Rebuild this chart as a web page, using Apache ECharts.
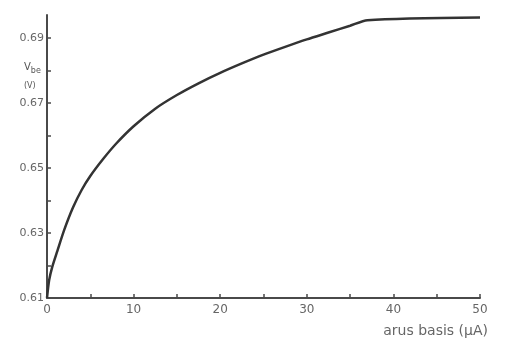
<!DOCTYPE html>
<html>
<head>
<meta charset="utf-8">
<script src="https://cdn.jsdelivr.net/npm/echarts@6/dist/echarts.min.js"></script>
<style>
  html, body { margin: 0; padding: 0; background: #fff; }
  #chart { width: 521px; height: 345px; }
</style>
</head>
<body>
<div id="chart"></div>
<script>
// Base current (µA) and base-emitter voltage (V)
const baseCurrent = [0, 0.25, 0.6, 1.2, 2, 3, 4, 5, 6.5, 8, 10, 12.5, 15, 17.5, 20, 22.5, 25, 27.5, 30, 32.5, 35, 37, 50];
const vbe = [0.610, 0.6155, 0.6195, 0.6245, 0.631, 0.6378, 0.6432, 0.6475, 0.6528, 0.6575, 0.6628, 0.6682, 0.6724, 0.676, 0.6792, 0.6821, 0.6848, 0.6872, 0.6895, 0.6916, 0.6937, 0.6954, 0.6962];
const yTickLabels = ['0.61', '0.63', '0.65', '0.67', '0.69'];
const xTickLabels = ['0', '10', '20', '30', '40', '50'];
const xAxisTitle = 'arus basis (µA)';

const points = baseCurrent.map((x, i) => [x, vbe[i]]);
const font = 'DejaVu Sans';
const axisColor = '#4a4a4a';

const chart = echarts.init(document.getElementById('chart'), null, { renderer: 'canvas' });
chart.setOption({
  animation: false,
  backgroundColor: '#fff',
  grid: { left: 47, right: 41, top: 15, bottom: 47 },
  xAxis: {
    type: 'value',
    min: 0, max: 50, interval: 5,
    axisLine: { onZero: false, lineStyle: { color: axisColor, width: 2 } },
    axisTick: { inside: true, length: 4, lineStyle: { color: axisColor, width: 1.5 } },
    splitLine: { show: false },
    axisLabel: {
      color: '#666', fontFamily: font, fontSize: 12, margin: 6,
      formatter: v => {
        const s = String(Math.round(v));
        return xTickLabels.includes(s) ? s : '';
      }
    },
    name: xAxisTitle,
    nameLocation: 'end',
    nameGap: 0,
    nameTextStyle: {
      color: '#666', fontFamily: font, fontSize: 14,
      align: 'right', verticalAlign: 'top', padding: [26, -8, 0, 0]
    }
  },
  yAxis: {
    type: 'value',
    min: 0.61, max: 0.697, interval: 0.01,
    axisLine: { onZero: false, lineStyle: { color: axisColor, width: 2 } },
    axisTick: { inside: true, length: 4, lineStyle: { color: axisColor, width: 1.5 } },
    splitLine: { show: false },
    axisLabel: {
      color: '#666', fontFamily: font, fontSize: 11, margin: 3,
      showMaxLabel: false,
      formatter: v => {
        const s = v.toFixed(2);
        return yTickLabels.includes(s) ? s : '';
      }
    }
  },
  graphic: [
    {
      type: 'text', left: 24, top: 62,
      style: {
        text: '{v|V}{s|be}\n{u|(V)}',
        rich: {
          v: { fontFamily: font, fontSize: 10, fill: '#555' },
          s: { fontFamily: font, fontSize: 8, fill: '#555', padding: [8, 0, 0, 0] },
          u: { fontFamily: font, fontSize: 8, fill: '#555', lineHeight: 22 }
        }
      }
    }
  ],
  series: [{
    type: 'line',
    data: points,
    smooth: 0.25,
    showSymbol: false,
    lineStyle: { color: '#333', width: 2.5 }
  }]
});
</script>
</body>
</html>
